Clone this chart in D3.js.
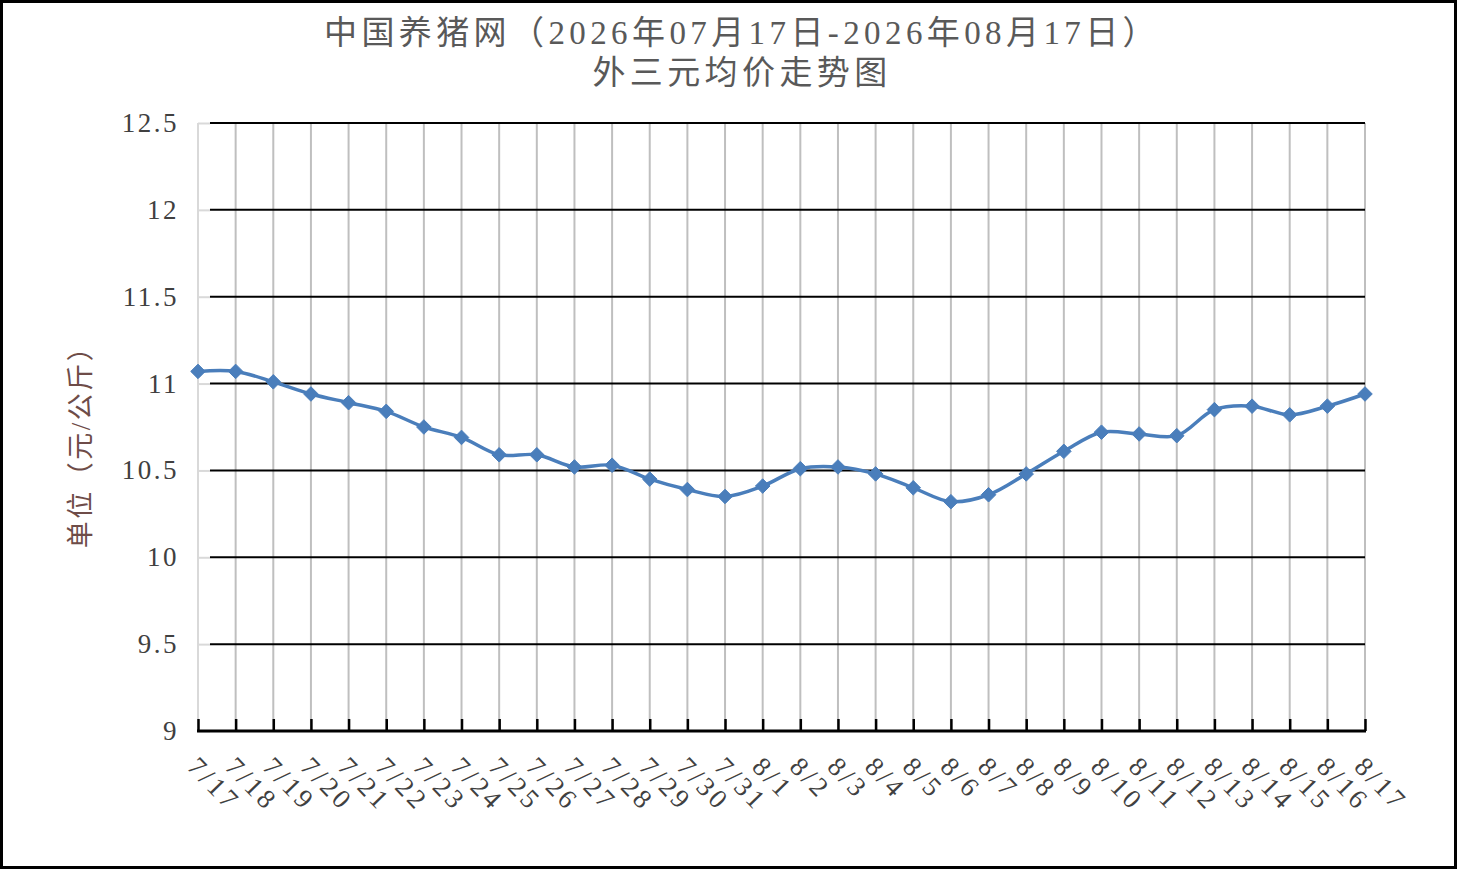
<!DOCTYPE html>
<html>
<head>
<meta charset="utf-8" />
<script src="https://d3js.org/d3.v7.min.js"></script>
<style>
    body { margin: 0; background: #fff; }
    svg { display: block; }
</style>
</head>
<body>
<script>
    // data
    const dates = ['7/17', '7/18', '7/19', '7/20', '7/21', '7/22', '7/23', '7/24', '7/25', '7/26',
        '7/27', '7/28', '7/29', '7/30', '7/31', '8/1', '8/2', '8/3', '8/4', '8/5', '8/6', '8/7',
        '8/8', '8/9', '8/10', '8/11', '8/12', '8/13', '8/14', '8/15', '8/16', '8/17'];
    const prices = [11.07, 11.07, 11.01, 10.94, 10.89, 10.84, 10.75, 10.69, 10.59, 10.59,
        10.52, 10.53, 10.45, 10.39, 10.35, 10.41, 10.51, 10.52, 10.48, 10.40, 10.32, 10.36,
        10.48, 10.61, 10.72, 10.71, 10.70, 10.85, 10.87, 10.82, 10.87, 10.94];
    const yTicks = [9, 9.5, 10, 10.5, 11, 11.5, 12, 12.5];
    const titleLines = ['中国养猪网（2026年07月17日-2026年08月17日）', '外三元均价走势图'];
    const yTitle = '单位（元/公斤）';

    const W = 1458, H = 870;
    const plot = { left: 198, right: 1365, top: 123, bottom: 731 };
    const fontStack = '"Liberation Serif", "Noto Sans CJK SC", serif';

    const svg = d3.select('body').append('svg')
        .attr('width', W)
        .attr('height', H);

    // outer border
    svg.append('rect')
        .attr('x', 1.5).attr('y', 1.5)
        .attr('width', W - 4).attr('height', H - 4)
        .attr('fill', '#fff')
        .attr('stroke', '#000')
        .attr('stroke-width', 3);

    const x = d3.scalePoint().domain(dates).range([plot.left, plot.right]);
    const y = d3.scaleLinear().domain([9, 12.5]).range([plot.bottom, plot.top]);

    // vertical grid lines
    svg.append('g')
        .selectAll('line')
        .data(dates)
        .enter()
        .append('line')
        .attr('x1', d => x(d)).attr('x2', d => x(d))
        .attr('y1', plot.top).attr('y2', plot.bottom)
        .attr('stroke', (d, i) => i === 0 ? '#d9d9d9' : '#bfbfbf')
        .attr('stroke-width', 2);

    // horizontal grid lines
    svg.append('g')
        .selectAll('line')
        .data(yTicks.filter(v => v > 9))
        .enter()
        .append('line')
        .attr('x1', plot.left + 12).attr('x2', plot.right)
        .attr('y1', d => y(d)).attr('y2', d => y(d))
        .attr('stroke', '#000')
        .attr('stroke-width', 2);

    // y axis (light grey, inner ticks)
    const yAxis = svg.append('g')
        .attr('transform', `translate(${plot.left},0)`)
        .call(d3.axisRight(y).tickValues(yTicks).tickSize(12).tickFormat(''));
    yAxis.select('.domain').remove();
    yAxis.selectAll('.tick line').attr('stroke', '#d9d9d9').attr('stroke-width', 2);

    // y tick labels
    svg.append('g')
        .selectAll('text')
        .data(yTicks)
        .enter()
        .append('text')
        .attr('x', 179)
        .attr('y', d => y(d) + 9)
        .attr('text-anchor', 'end')
        .attr('font-family', fontStack)
        .attr('font-size', 27)
        .attr('letter-spacing', 2.5)
        .attr('fill', '#404040')
        .text(d => String(d));

    // x axis with inner ticks
    const xAxis = svg.append('g')
        .attr('transform', `translate(0,${plot.bottom})`)
        .call(d3.axisTop(x).tickSize(12).tickSizeOuter(0).tickFormat(''));
    xAxis.select('.domain').attr('stroke', '#000').attr('stroke-width', 3)
        .attr('d', `M${plot.left - 1},0H${plot.right + 1}`);
    xAxis.selectAll('.tick line').attr('stroke', '#000').attr('stroke-width', 2.5);

    // x tick labels, rotated 45 degrees
    svg.append('g')
        .selectAll('text')
        .data(dates)
        .enter()
        .append('text')
        .attr('transform', d => `translate(${x(d) - 12},${plot.bottom + 37}) rotate(46)`)
        .attr('font-family', fontStack)
        .attr('font-size', 27)
        .attr('letter-spacing', 3.5)
        .attr('fill', '#404040')
        .text(d => d);

    // price line
    const line = d3.line()
        .x((d, i) => x(dates[i]))
        .y(d => y(d))
        .curve(d3.curveCatmullRom.alpha(0.5));

    svg.append('path')
        .datum(prices)
        .attr('d', line)
        .attr('fill', 'none')
        .attr('stroke', '#4a7ebb')
        .attr('stroke-width', 3.5)
        .attr('stroke-linejoin', 'round');

    // diamond markers
    const diamond = d3.symbol().type(d3.symbolDiamond2).size(135);
    svg.append('g')
        .selectAll('path')
        .data(prices)
        .enter()
        .append('path')
        .attr('d', diamond)
        .attr('transform', (d, i) => `translate(${x(dates[i])},${y(d)})`)
        .attr('fill', '#4a7ebb')
        .attr('stroke', '#4a7ebb')
        .attr('stroke-width', 1);

    // title
    svg.append('g')
        .selectAll('text')
        .data(titleLines)
        .enter()
        .append('text')
        .attr('x', 742)
        .attr('y', (d, i) => 44 + i * 40)
        .attr('text-anchor', 'middle')
        .attr('font-family', fontStack)
        .attr('font-size', 33)
        .attr('letter-spacing', 4.4)
        .attr('fill', '#595959')
        .text(d => d);

    // y axis title
    svg.append('text')
        .attr('transform', 'translate(90,440) rotate(-90)')
        .attr('text-anchor', 'middle')
        .attr('font-family', fontStack)
        .attr('font-size', 27)
        .attr('letter-spacing', 2.5)
        .attr('fill', '#6e4c48')
        .text(yTitle);
</script>
</body>
</html>
